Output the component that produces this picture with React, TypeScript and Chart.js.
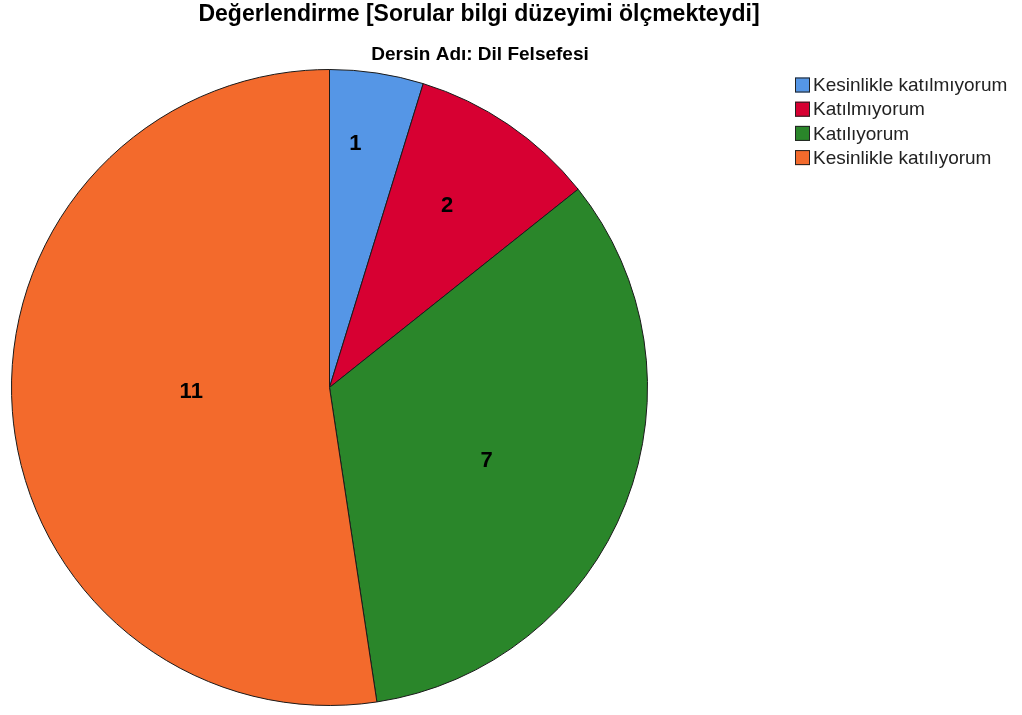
import React, { useEffect, useRef } from "react";
import { Chart, registerables } from "chart.js";

Chart.register(...registerables);

const TITLE = "Değerlendirme [Sorular bilgi düzeyimi ölçmekteydi]";
const SUBTITLE = "Dersin Adı: Dil Felsefesi";
const categories = [
  "Kesinlikle katılmıyorum",
  "Katılmıyorum",
  "Katılıyorum",
  "Kesinlikle katılıyorum",
];
const counts = [1, 2, 7, 11];
const colors = ["#5596E6", "#D70032", "#2A862A", "#F36A2C"];
// label placement per slice: radial fraction, angular shift (deg)
const labelRadius = [0.77, 0.68, 0.545, 0.435];
const labelShift = [-2.5, -1.3, 3.5, 2.3];

const FONT = "'Liberation Sans', Arial, sans-serif";

const overlayPlugin = {
  id: "overlay",
  afterDraw(chart: any) {
    const ctx = chart.ctx as CanvasRenderingContext2D;
    ctx.save();
    // titles
    ctx.fillStyle = "#000";
    ctx.textAlign = "center";
    ctx.textBaseline = "middle";
    ctx.font = `bold 23px ${FONT}`;
    ctx.fillText(TITLE, 479, 15);
    ctx.font = `bold 19px ${FONT}`;
    ctx.fillText(SUBTITLE, 480, 55);

    // slice labels
    const meta = chart.getDatasetMeta(0);
    ctx.font = `bold 22px ${FONT}`;
    meta.data.forEach((arc: any, i: number) => {
      const p = arc.getProps(["x", "y", "startAngle", "endAngle", "outerRadius"], true);
      const mid = (p.startAngle + p.endAngle) / 2 + (labelShift[i] * Math.PI) / 180;
      const r = p.outerRadius * labelRadius[i];
      ctx.fillStyle = "#000";
      ctx.fillText(String(counts[i]), p.x + r * Math.cos(mid), p.y + r * Math.sin(mid));
    });

    // legend
    ctx.textAlign = "left";
    ctx.font = `19px ${FONT}`;
    const lx = 795;
    const ly = 85;
    const step = 24.2;
    categories.forEach((c, i) => {
      const y = ly + i * step;
      ctx.fillStyle = colors[i];
      ctx.fillRect(lx, y - 7.5, 15, 15);
      ctx.strokeStyle = "#222";
      ctx.lineWidth = 1;
      ctx.strokeRect(lx + 0.5, y - 7, 14, 14);
      ctx.fillStyle = "#222";
      ctx.fillText(c, lx + 18, y + 1);
    });
    ctx.restore();
  },
};

export default function App() {
  const ref = useRef<HTMLCanvasElement>(null);
  useEffect(() => {
    if (!ref.current) return;
    const chart = new Chart(ref.current, {
      type: "pie",
      data: {
        labels: categories,
        datasets: [
          {
            data: counts,
            backgroundColor: colors,
            borderColor: "#1a1a1a",
            borderWidth: 1,
            hoverOffset: 0,
          },
        ],
      },
      options: {
        responsive: false,
        animation: false,
        layout: { padding: { top: 69, left: 11, right: 374, bottom: 9 } },
        plugins: {
          legend: { display: false },
          title: { display: false },
          tooltip: { enabled: false },
        },
      },
      plugins: [overlayPlugin],
    });
    return () => chart.destroy();
  }, []);
  return (
    <div style={{ position: "absolute", left: 0, top: 0, width: 1022, height: 715, background: "#fff" }}>
      <canvas ref={ref} width={1022} height={715} style={{ display: "block" }} />
    </div>
  );
}
